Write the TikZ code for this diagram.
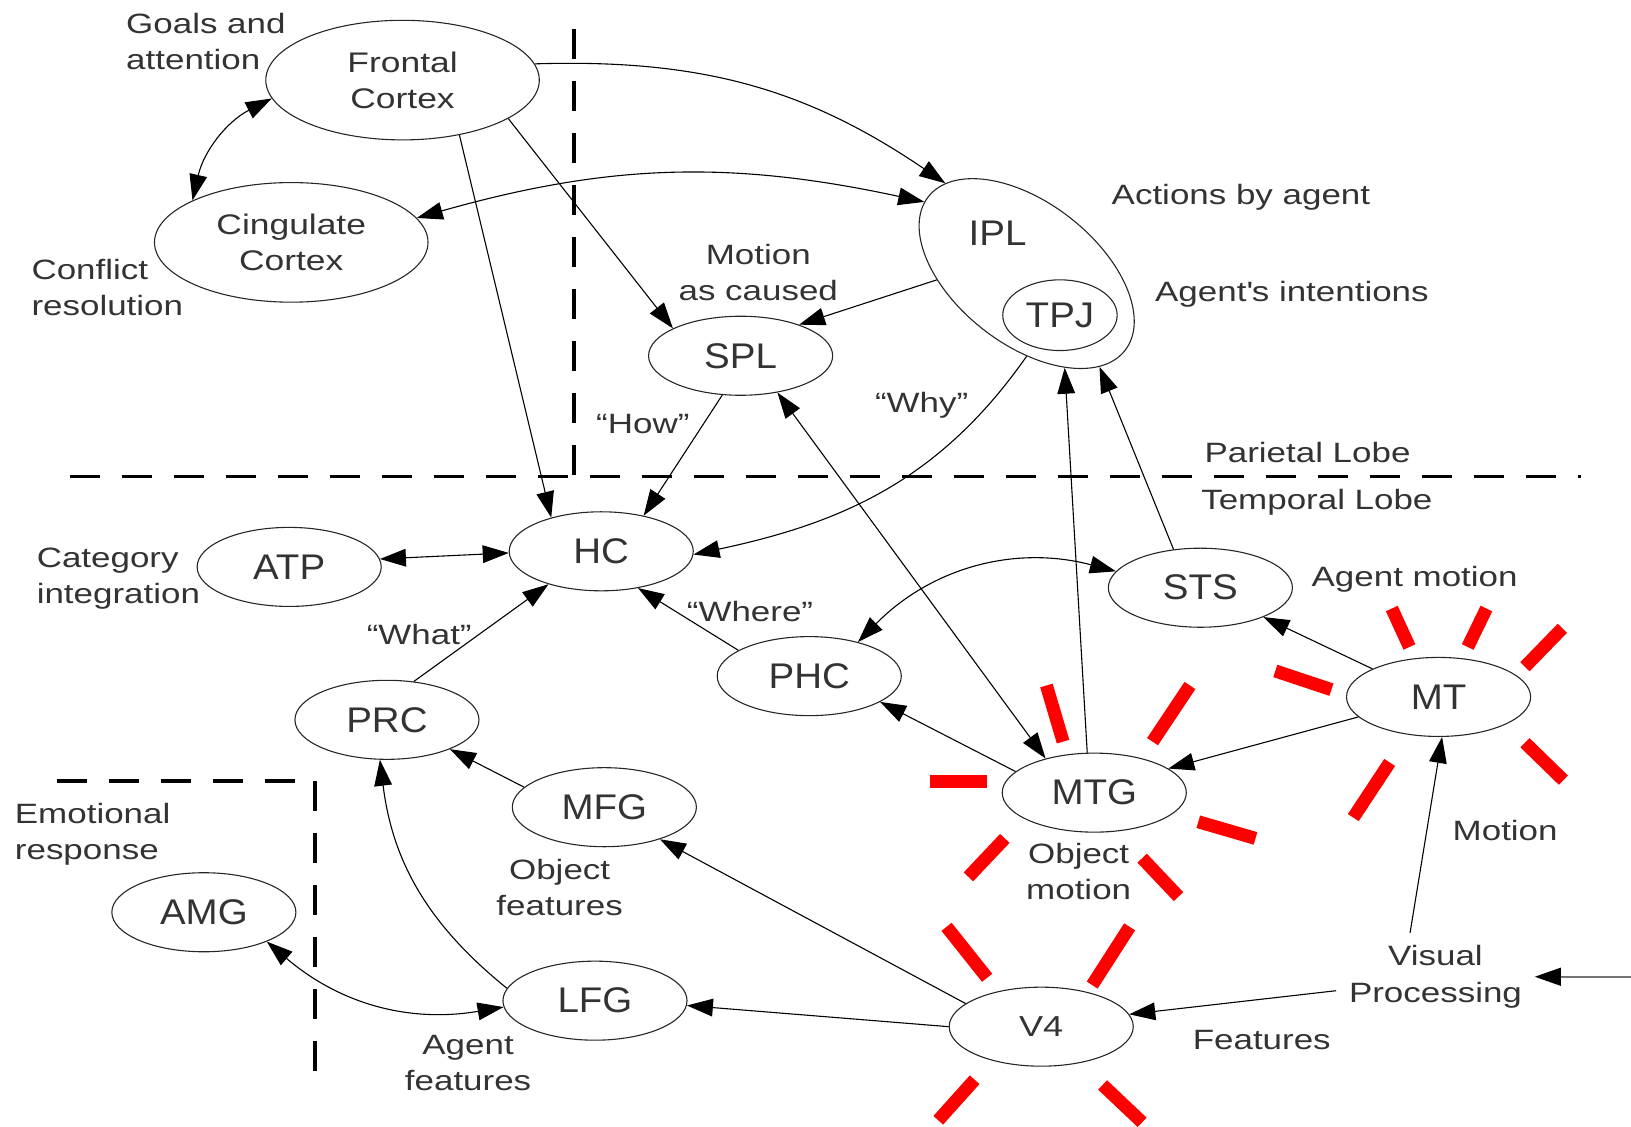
\documentclass[tikz,border=0pt]{standalone}
\usepackage{fontspec}
\setmainfont{Liberation Sans}[FakeStretch=1.25]
\newfontfamily\regionfont{Liberation Sans}[FakeStretch=1.08]
\usetikzlibrary{shapes.geometric,arrows.meta}

\tikzset{
	region/.style={ellipse, draw=black!85, line width=0.6pt, inner sep=0pt,
		minimum width=3.54cm, minimum height=1.52cm, text=black!80,
		font=\regionfont\fontsize{19.5}{22}\selectfont},
	cortex/.style={region, minimum width=5.26cm, minimum height=2.3cm,
		align=center, font=\fontsize{15.5}{19.8}\selectfont},
	note/.style={inner sep=0pt, text=black!80, font=\fontsize{15.3}{19.8}\selectfont},
	link/.style={-{Triangle[length=0.5cm,width=0.34cm,color=black]}, line width=0.6pt},
	twoway/.style={{Triangle[length=0.5cm,width=0.34cm]}-{Triangle[length=0.5cm,width=0.34cm]}, line width=0.6pt},
	lobe/.style={line width=2pt, dash pattern=on 0.58cm off 0.42cm},
	burst/.style={red, line width=0.25cm},
}

\begin{document}
\begin{tikzpicture}[x=0.02cm, y=0.02cm]
		\useasboundingbox (0,0) rectangle (1568,-1083);

		\draw[lobe] (67,-458) -- (1520,-458);
		\draw[lobe] (552,-28) -- (552,-458);
		\draw[lobe] (55,-751) -- (300,-751);
		\draw[lobe] (303,-751) -- (303,-1050);

		\foreach \xa/\ya/\xb/\yb in {
			1226/645/1280/663, 1338/585/1355/622, 1429/585/1411/622,
			1502/604/1466/641, 1466/714/1503/750, 1336/733/1301/786,
			894/751/949/751, 1006/659/1022/713, 1144/659/1108/713,
			1152/790/1207/806, 966/806/931/843, 1098/825/1133/862,
			910/891/949/940, 1086/891/1050/947, 937/1038/902/1077,
			1060/1043/1098/1079}
			\draw[burst] (\xa,-\ya) -- (\xb,-\yb);

		\node[cortex] (fc) at (387,-77) {Frontal\\Cortex};
		\node[cortex] (cc) at (280,-233) {Cingulate\\Cortex};
		\node[region, minimum width=4.8cm, minimum height=2.72cm, rotate=-38] (ipl) at (987,-263) {};
		\node[region, draw=none] (ipllabel) at (959,-224) {IPL};
		\node[region, minimum width=2.2cm, minimum height=1.36cm] (tpj) at (1019,-303) {TPJ};
		\node[region] (spl) at (712,-342) {SPL};
		\node[region] (hc) at (578,-530) {HC};
		\node[region] (atp) at (278,-545) {ATP};
		\node[region] (sts) at (1154,-565) {STS};
		\node[region] (phc) at (778,-650) {PHC};
		\node[region] (prc) at (372,-692) {PRC};
		\node[region] (mt) at (1383,-670) {MT};
		\node[region] (mtg) at (1052,-762) {MTG};
		\node[region] (mfg) at (581,-776) {MFG};
		\node[region] (amg) at (196,-877) {AMG};
		\node[region] (lfg) at (572,-962) {LFG};
		\node[region, font=\fontsize{15.8}{19}\selectfont] (v4) at (1001,-987) {V4};
		\node[note, align=center, inner sep=0.24cm] (vis) at (1380,-939) {Visual\\Processing};
		\coordinate (retina) at (1568,-939);

		\node[note, anchor=west, align=left] (goals) at (121,-40) {Goals and\\attention};
		\node[note, anchor=west, align=left] (conflict) at (30,-276) {Conflict\\resolution};
		\node[note, align=center] (caused) at (729,-262) {Motion\\as caused};
		\node[note] (actions) at (1193,-190) {Actions by agent};
		\node[note] (intent) at (1242,-283) {Agent\textquotesingle s intentions};
		\node[note] (how) at (618,-408) {“How”};
		\node[note] (why) at (886,-390) {“Why”};
		\node[note] (parietal) at (1257,-435) {Parietal Lobe};
		\node[note] (temporal) at (1266,-483) {Temporal Lobe};
		\node[note, anchor=west, align=left] (category) at (35,-556) {Category\\integration};
		\node[note] (what) at (403,-610) {“What”};
		\node[note] (where) at (721,-588) {“Where”};
		\node[note] (agentmotion) at (1360,-557) {Agent motion};
		\node[note, anchor=west, align=left] (emotion) at (14,-802) {Emotional\\response};
		\node[note, align=center] (objfeat) at (538,-853) {Object\\features};
		\node[note, align=center] (objmotion) at (1037,-838) {Object\\motion};
		\node[note] (motion) at (1447,-798) {Motion};
		\node[note, align=center] (agentfeat) at (450,-1022) {Agent\\features};
		\node[note] (features) at (1213,-1000) {Features};

		\draw[twoway] (fc.188) to[bend right=25] (cc.157);
		\draw[link] (fc.7) to[bend left=18] (ipl.170);
		\draw[twoway] (cc.11) to[bend left=14] (ipl.183);
		\draw[link] (fc.-44) -- (hc.146);
		\draw[link] (fc.-20) -- (spl.158);
		\draw[link] (ipl.222) -- (spl.28);
		\draw[link] (spl.-115) -- (hc.40);
		\draw[link] (ipl.-52) to[out=-125, in=12] (hc.-2);
		\draw[twoway] (spl.-45) -- (mtg.145);
		\draw[link] (mtg.100) -- (ipl.-30);
		\draw[link] (sts.125) -- (ipl.-14);
		\draw[twoway] (sts.169) to[bend right=30] (phc.35);
		\draw[link] (phc.160) -- (hc.-45);
		\draw[link] (mtg.165) -- (phc.-20);
		\draw[link] (mt.157) -- (sts.-25);
		\draw[link] (mt.194) -- (mtg.18);
		\draw[link] (vis.120) -- (mt.-85);
		\draw[link] (vis.188) -- (v4.8);
		\draw[link, draw=black!55, line width=1.2pt] (retina) -- (vis.east);
		\draw[link] (v4.180) -- (lfg.-3);
		\draw[link] (v4.163) -- (mfg.-30);
		\draw[link] (mfg.166) -- (prc.-25);
		\draw[link] (lfg.172) to[bend left=22] (prc.-100);
		\draw[link] (prc.55) -- (hc.-148);
		\draw[twoway] (atp.5) -- (hc.181);
		\draw[twoway] (amg.-25) to[bend right=25] (lfg.184);
	\end{tikzpicture}
\end{document}
